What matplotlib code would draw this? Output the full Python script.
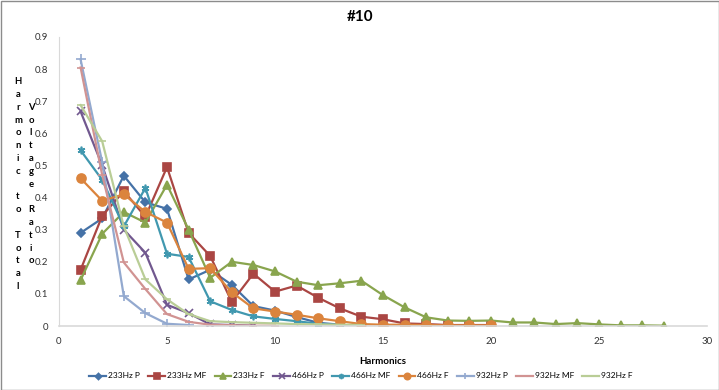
"""Harmonic to total voltage ratio, chart #10."""

import matplotlib.pyplot as plt
from matplotlib.patches import Rectangle

plt.rcParams['font.family'] = ['Lato', 'DejaVu Sans']

# Series data (harmonic number -> ratio)
p233 = [0.290, 0.335, 0.468, 0.385, 0.365, 0.145, 0.175, 0.128, 0.062, 0.048, 0.028, 0.010, 0.004]
mf233 = [0.175, 0.343, 0.420, 0.340, 0.495, 0.290, 0.218, 0.075, 0.163, 0.107, 0.126, 0.088,
         0.055, 0.029, 0.021, 0.008, 0.006, 0.003, 0.003, 0.003]
f233 = [0.143, 0.287, 0.355, 0.322, 0.440, 0.300, 0.150, 0.200, 0.190, 0.170, 0.138, 0.127,
        0.133, 0.141, 0.096, 0.058, 0.027, 0.017, 0.016, 0.017, 0.011, 0.011, 0.006, 0.009,
        0.005, 0.002, 0.002, 0.001]
p466 = [0.668, 0.500, 0.300, 0.228, 0.066, 0.040, 0.005, 0.003, 0.001]
mf466 = [0.547, 0.455, 0.310, 0.430, 0.225, 0.215, 0.077, 0.050, 0.030, 0.022, 0.015, 0.007,
         0.003, 0.002]
f466 = [0.460, 0.390, 0.410, 0.355, 0.322, 0.178, 0.180, 0.105, 0.055, 0.045, 0.035, 0.024,
        0.015, 0.006, 0.004, 0.004, 0.003, 0.002, 0.002, 0.002]
p932 = [0.830, 0.510, 0.093, 0.040, 0.007, 0.003]
mf932 = [0.805, 0.470, 0.198, 0.115, 0.037, 0.013, 0.004, 0.002, 0.001, 0.001]
f932 = [0.688, 0.575, 0.310, 0.145, 0.083, 0.037, 0.015, 0.012, 0.010, 0.008, 0.006, 0.005,
        0.004, 0.003]

labels = ['233Hz P', '233Hz MF', '233Hz F', '466Hz P', '466Hz MF', '466Hz F',
          '932Hz P', '932Hz MF', '932Hz F']
series = [p233, mf233, f233, p466, mf466, f466, p932, mf932, f932]
colors = ['#4572A7', '#AA4643', '#89A54E', '#71588F', '#4198AF', '#DB843D',
          '#93A9CF', '#D19392', '#B9CD96']
markers = ['D', 's', '^', 'x', (6, 2, 0), 'o', '+', '_', '_']
msizes = [4.5, 6, 6, 5.5, 5.5, 6.5, 6.5, 5.5, 5.5]

fig = plt.figure(figsize=(7.19, 3.90), dpi=100)
ax = fig.add_axes([59 / 719, 64 / 390, 648 / 719, 289 / 390])

for vals, lab, c, m, ms in zip(series, labels, colors, markers, msizes):
    xs = range(1, len(vals) + 1)
    ax.plot(xs, vals, color=c, lw=1.6, marker=m, markersize=ms,
            markeredgecolor=c, markerfacecolor=c, markeredgewidth=1.2, label=lab)

ax.set_xlim(0, 30)
ax.set_ylim(0, 0.9)
ax.set_xticks(range(0, 31, 5))
ax.set_yticks([i / 10 for i in range(10)])
ax.set_yticklabels(['0'] + [f'{i / 10:.1f}' for i in range(1, 10)])
ax.tick_params(length=0, labelsize=7, colors='#333333', pad=8)
for s in ['top', 'right']:
    ax.spines[s].set_visible(False)
ax.spines['left'].set_color('#d9d9d9')
ax.spines['bottom'].set_color('#d9d9d9')
ax.spines['bottom'].set_linewidth(1.2)

ax.set_xlabel('Harmonics', fontsize=7, fontweight='bold', labelpad=8)
fig.text(360 / 719, 1 - 17 / 390, '#10', ha='center', va='center',
         fontsize=11, fontweight='bold')

# stacked vertical y label, two columns like the spreadsheet
col1 = 'Harmonic to Total'
col2 = 'Voltage Ratio'
step = 12.8
for i, ch in enumerate(col1):
    fig.text(18 / 719, 1 - (81.7 + i * step) / 390, ch, ha='center', va='center',
             fontsize=6.8, fontweight='bold')
for i, ch in enumerate(col2):
    fig.text(31 / 719, 1 - (81.7 + (i + 2) * step) / 390, ch, ha='center', va='center',
             fontsize=6.8, fontweight='bold')

fig.legend(loc='center', bbox_to_anchor=(361 / 719, 1 - 376 / 390), ncol=9,
           frameon=False, fontsize=6, handlelength=2.0, handletextpad=0.25,
           columnspacing=1.0, markerscale=0.7)

fig.patches.append(Rectangle((0.5 / 719, 0.5 / 390), 718 / 719, 389 / 390,
                             transform=fig.transFigure, fill=False,
                             edgecolor='#8c8c8c', lw=1))

fig.savefig('out.png', dpi=100)
